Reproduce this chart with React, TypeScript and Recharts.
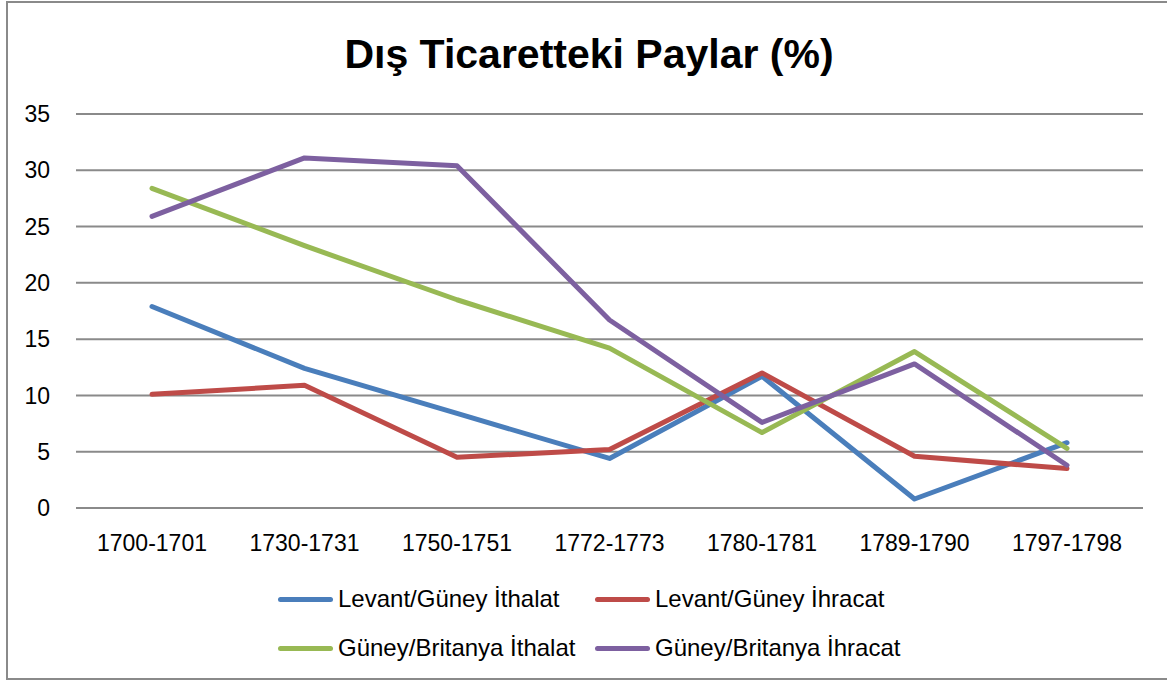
import React from "react";
import { CartesianGrid, Line, LineChart, XAxis, YAxis } from "recharts";

const categories = [
  "1700-1701",
  "1730-1731",
  "1750-1751",
  "1772-1773",
  "1780-1781",
  "1789-1790",
  "1797-1798",
];
const levantIthalat = [17.9, 12.4, 8.4, 4.4, 11.7, 0.8, 5.8];
const levantIhracat = [10.1, 10.9, 4.5, 5.2, 12.0, 4.6, 3.5];
const guneyIthalat = [28.4, 23.3, 18.5, 14.2, 6.7, 13.9, 5.3];
const guneyIhracat = [25.9, 31.1, 30.4, 16.7, 7.6, 12.8, 3.8];
const yTicks = [0, 5, 10, 15, 20, 25, 30, 35];

const seriesNames = [
  "Levant/Güney İthalat",
  "Levant/Güney İhracat",
  "Güney/Britanya İthalat",
  "Güney/Britanya İhracat",
];
const seriesColors = ["#4a7ebb", "#be4b48", "#98b954", "#7d60a0"];
const seriesValues = [levantIthalat, levantIhracat, guneyIthalat, guneyIhracat];

const data = categories.map((name, i) => {
  const row: Record<string, string | number> = { name };
  seriesNames.forEach((s, k) => {
    row[s] = seriesValues[k][i];
  });
  return row;
});

const FONT = "'Liberation Sans', Arial, sans-serif";

// legend drawn outside the chart so it doesn't eat plot height
function ChartLegend() {
  const cols = [278, 595];
  const rows = [599, 648];
  return (
    <>
      {seriesNames.map((name, i) => (
        <div
          key={name}
          style={{
            position: "absolute",
            left: cols[i % 2],
            top: rows[Math.floor(i / 2)] - 15,
            height: 30,
            display: "flex",
            alignItems: "center",
            whiteSpace: "nowrap",
          }}
        >
          <span
            style={{
              display: "inline-block",
              width: 55,
              height: 5,
              borderRadius: 3,
              background: seriesColors[i],
              marginRight: 5,
            }}
          />
          <span style={{ fontFamily: FONT, fontSize: 24, color: "#000" }}>{name}</span>
        </div>
      ))}
    </>
  );
}

export default function App() {
  return (
    <div style={{ position: "absolute", left: 0, top: 0, width: 1167, height: 683, background: "#fff" }}>
      <div
        style={{
          position: "absolute",
          left: 6,
          top: 1,
          width: 1170,
          height: 679,
          border: "2px solid #8a8a8a",
          boxSizing: "border-box",
        }}
      />
      <div
        style={{
          position: "absolute",
          left: 0,
          top: 30,
          width: 1178,
          textAlign: "center",
          fontFamily: FONT,
          fontWeight: "bold",
          fontSize: 41,
          lineHeight: "48px",
          color: "#000",
        }}
      >
        Dış Ticaretteki Paylar (%)
      </div>
      <div style={{ position: "absolute", left: 0, top: 0 }}>
        <LineChart
          width={1167}
          height={683}
          data={data}
          margin={{ top: 114, right: 24, bottom: 0, left: 0 }}
        >
          <CartesianGrid vertical={false} stroke="#8a8a8a" strokeWidth={2} />
          <XAxis
            dataKey="name"
            height={175}
            padding={{ left: 76, right: 76 }}
            axisLine={{ stroke: "#8a8a8a", strokeWidth: 2 }}
            tickLine={false}
            tickSize={0}
            tickMargin={27}
            tick={{ fill: "#000", fontSize: 23, fontFamily: FONT }}
            interval={0}
          />
          <YAxis
            width={76}
            domain={[0, 35]}
            ticks={yTicks}
            axisLine={false}
            tickLine={false}
            tickSize={0}
            tickMargin={26}
            tick={{ fill: "#000", fontSize: 23, fontFamily: FONT }}
          />
          {seriesNames.map((name, i) => (
            <Line
              key={name}
              type="linear"
              dataKey={name}
              stroke={seriesColors[i]}
              strokeWidth={5}
              strokeLinejoin="round"
              strokeLinecap="round"
              dot={false}
              activeDot={false}
              isAnimationActive={false}
            />
          ))}
        </LineChart>
      </div>
      <ChartLegend />
    </div>
  );
}
